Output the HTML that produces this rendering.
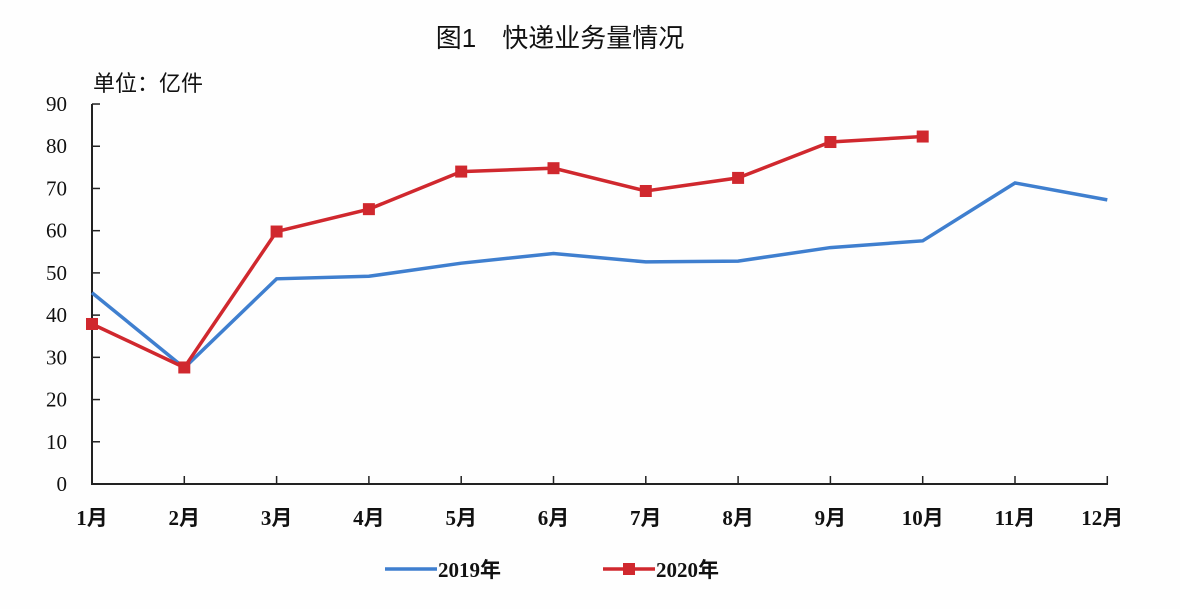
<!DOCTYPE html><html><head><meta charset="utf-8"><style>body{margin:0;background:#fefefe}</style></head><body>
<svg width="1180" height="604" xmlns="http://www.w3.org/2000/svg" font-family="'Liberation Serif','Noto Serif CJK SC',serif">
<rect width="1180" height="604" fill="#fefefe"/>
<text x="560" y="47" font-size="26" text-anchor="middle" font-family="'Liberation Sans','Noto Sans CJK SC',sans-serif" fill="#111">图1　快递业务量情况</text>
<text x="93" y="91" font-size="22" font-family="'Liberation Sans','Noto Sans CJK SC',sans-serif" fill="#111">单位：亿件</text>
<g stroke="#222" stroke-width="2" fill="none">
<line x1="92" y1="104" x2="92" y2="484"/><line x1="91" y1="484" x2="1108" y2="484"/>
</g>
<g stroke="#222" stroke-width="1.5" id="t"></g>
<g font-size="21" fill="#111" text-anchor="end" id="yl"></g>
<g font-size="21" font-weight="bold" fill="#111" text-anchor="middle" id="xl" font-family="'Liberation Serif','Noto Sans CJK SC',serif"></g>
<polyline id="b" fill="none" stroke="#3f7fcf" stroke-width="3.5"/>
<polyline id="r" fill="none" stroke="#d0282e" stroke-width="3.5"/>
<g id="m" fill="#d0282e"></g>
<line x1="385" y1="569" x2="437" y2="569" stroke="#3f7fcf" stroke-width="3.5"/>
<text x="438" y="577" font-size="21" font-weight="bold" fill="#111" font-family="'Liberation Serif','Noto Sans CJK SC',serif">2019年</text>
<line x1="603" y1="569" x2="655" y2="569" stroke="#d0282e" stroke-width="3.5"/>
<rect x="623" y="563" width="12" height="12" fill="#d0282e"/>
<text x="656" y="577" font-size="21" font-weight="bold" fill="#111" font-family="'Liberation Serif','Noto Sans CJK SC',serif">2020年</text>
</svg>
<script>
const X=i=>92+i*92.3,Y=v=>484-v*4.222,ns="http://www.w3.org/2000/svg";
const a=[45.3,27.5,48.6,49.2,52.3,54.6,52.6,52.8,56,57.6,71.3,67.3],b=[37.9,27.6,59.8,65.1,74,74.8,69.4,72.5,81,82.3];
document.getElementById('b').setAttribute('points',a.map((v,i)=>X(i)+','+Y(v)).join(' '));
document.getElementById('r').setAttribute('points',b.map((v,i)=>X(i)+','+Y(v)).join(' '));
const m=document.getElementById('m'),t=document.getElementById('t'),yl=document.getElementById('yl'),xl=document.getElementById('xl');
function el(p,n,at,tx){const e=document.createElementNS(ns,n);for(const k in at)e.setAttribute(k,at[k]);if(tx)e.textContent=tx;p.appendChild(e);}
b.forEach((v,i)=>el(m,'rect',{x:X(i)-6,y:Y(v)-6,width:12,height:12}));
for(let k=0;k<=9;k++){el(t,'line',{x1:92,x2:100,y1:Y(k*10),y2:Y(k*10)});el(yl,'text',{x:67,y:Y(k*10)+7},String(k*10));}
for(let i=0;i<12;i++){if(i>0)el(t,'line',{x1:X(i),x2:X(i),y1:484,y2:476});el(xl,'text',{x:X(i)+(i==11?-5:0),y:525},(i+1)+'月');}
</script>
</body></html>
